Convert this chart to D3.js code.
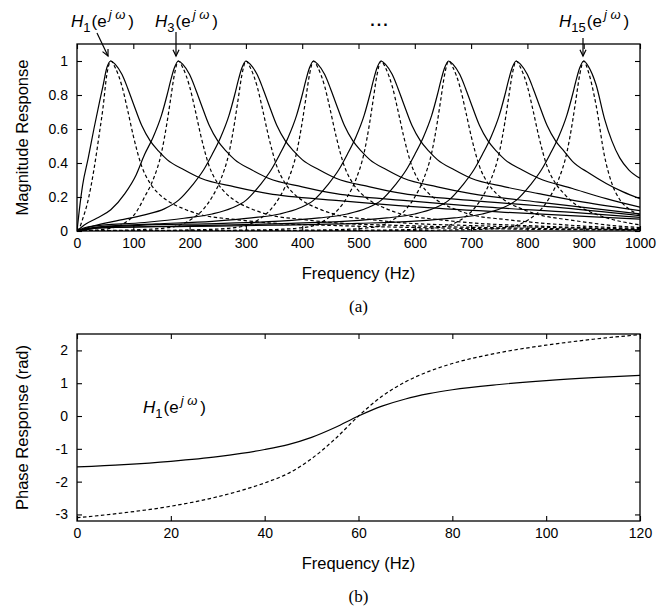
<!DOCTYPE html>
<html><head><meta charset="utf-8">
<script src="https://cdn.jsdelivr.net/npm/d3@7"></script>
<style>
body{margin:0;background:#fff;}
svg{display:block;font-family:"Liberation Sans",Arial,sans-serif;}
</style></head>
<body><svg id="c" width="671" height="612"></svg>
<script>
// ---------- data: (a) magnitude responses, [frequency Hz, magnitude] ----------
const magXTicks = [0,100,200,300,400,500,600,700,800,900,1000];
const magYTicks = [0,0.2,0.4,0.6,0.8,1];
const magYLabels = ["0","0.2","0.4","0.6","0.8","1"];

const solidH1 = [[0,0],[4,0.12],[10,0.27],[20,0.43],[30,0.6],[40,0.76],[46,0.85],[53,0.96],[60,1],[68,0.98],[80,0.92],[90,0.84],[100,0.75],[115,0.62],[130,0.53],[145,0.47],[160,0.42],[190,0.36],[220,0.31],[280,0.26],[340,0.22],[460,0.18],[610,0.14],[760,0.11],[910,0.085],[1000,0.07]];
const dashedH1 = [[0,0],[4,0.015],[10,0.07],[20,0.185],[30,0.36],[40,0.58],[46,0.72],[53,0.92],[60,1],[68,0.96],[80,0.85],[90,0.71],[100,0.56],[115,0.38],[130,0.28],[145,0.22],[160,0.18],[190,0.13],[220,0.096],[280,0.068],[340,0.048],[460,0.032],[610,0.02],[760,0.012],[910,0.007],[1000,0.005]];

const solidH3 = [[0,0],[15,0.04],[35,0.075],[60,0.125],[85,0.22],[105,0.33],[120,0.45],[135,0.55],[150,0.68],[160,0.8],[166,0.88],[173,0.96],[180,1],[188,0.98],[200,0.92],[210,0.84],[220,0.75],[235,0.62],[250,0.53],[265,0.47],[280,0.42],[310,0.36],[340,0.31],[400,0.26],[460,0.22],[580,0.18],[730,0.14],[880,0.11],[1000,0.08]];
const dashedH3 = [[0,0],[15,0.0016],[35,0.0056],[60,0.016],[85,0.048],[105,0.11],[120,0.2],[135,0.3],[150,0.46],[160,0.64],[166,0.77],[173,0.92],[180,1],[188,0.96],[200,0.85],[210,0.71],[220,0.56],[235,0.38],[250,0.28],[265,0.22],[280,0.18],[310,0.13],[340,0.096],[400,0.068],[460,0.048],[580,0.032],[730,0.02],[880,0.012],[1000,0.0064]];

const solidH5 = [[0,0],[30,0.03],[70,0.06],[120,0.095],[155,0.13],[180,0.18],[205,0.27],[225,0.36],[240,0.45],[255,0.55],[270,0.68],[280,0.8],[286,0.88],[293,0.96],[300,1],[308,0.98],[320,0.92],[330,0.84],[340,0.75],[355,0.62],[370,0.53],[385,0.47],[400,0.42],[430,0.36],[460,0.31],[520,0.26],[580,0.22],[700,0.18],[850,0.14],[1000,0.09]];
const dashedH5 = [[0,0],[30,0.001],[70,0.0036],[120,0.009],[155,0.017],[180,0.032],[205,0.073],[225,0.13],[240,0.2],[255,0.3],[270,0.46],[280,0.64],[286,0.77],[293,0.92],[300,1],[308,0.96],[320,0.85],[330,0.71],[340,0.56],[355,0.38],[370,0.28],[385,0.22],[400,0.18],[430,0.13],[460,0.096],[520,0.068],[580,0.048],[700,0.032],[850,0.02],[1000,0.008]];

const solidH7 = [[0,0],[20,0.025],[120,0.05],[190,0.075],[240,0.1],[275,0.135],[300,0.18],[325,0.27],[345,0.36],[360,0.45],[375,0.55],[390,0.68],[400,0.8],[406,0.88],[413,0.96],[420,1],[428,0.98],[440,0.92],[450,0.84],[460,0.75],[475,0.62],[490,0.53],[505,0.47],[520,0.42],[550,0.36],[580,0.31],[640,0.26],[700,0.22],[820,0.17],[1000,0.1]];
const dashedH7 = [[0,0],[20,0.0006],[120,0.0025],[190,0.0056],[240,0.01],[275,0.018],[300,0.032],[325,0.073],[345,0.13],[360,0.2],[375,0.3],[390,0.46],[400,0.64],[406,0.77],[413,0.92],[420,1],[428,0.96],[440,0.85],[450,0.71],[460,0.56],[475,0.38],[490,0.28],[505,0.22],[520,0.18],[550,0.13],[580,0.096],[640,0.068],[700,0.048],[820,0.029],[1000,0.01]];

const solidH9 = [[0,0],[40,0.025],[140,0.042],[240,0.057],[310,0.077],[360,0.1],[395,0.135],[420,0.18],[445,0.27],[465,0.36],[480,0.45],[495,0.55],[510,0.68],[520,0.8],[526,0.88],[533,0.96],[540,1],[548,0.98],[560,0.92],[570,0.84],[580,0.75],[595,0.62],[610,0.53],[625,0.47],[640,0.42],[670,0.36],[700,0.31],[760,0.26],[820,0.22],[900,0.17],[1000,0.12]];
const dashedH9 = [[0,0],[40,0.0006],[140,0.0018],[240,0.0032],[310,0.006],[360,0.01],[395,0.018],[420,0.032],[445,0.073],[465,0.13],[480,0.2],[495,0.3],[510,0.46],[520,0.64],[526,0.77],[533,0.92],[540,1],[548,0.96],[560,0.85],[570,0.71],[580,0.56],[595,0.38],[610,0.28],[625,0.22],[640,0.18],[670,0.13],[700,0.096],[760,0.068],[820,0.048],[900,0.029],[1000,0.014]];

const solidH11 = [[0,0],[30,0.02],[110,0.033],[260,0.045],[360,0.058],[430,0.077],[480,0.1],[515,0.135],[540,0.18],[565,0.27],[585,0.36],[600,0.45],[615,0.55],[630,0.68],[640,0.8],[646,0.88],[653,0.96],[660,1],[668,0.98],[680,0.92],[690,0.84],[700,0.75],[715,0.62],[730,0.53],[745,0.47],[760,0.42],[790,0.36],[820,0.31],[880,0.25],[940,0.19],[1000,0.14]];
const dashedH11 = [[0,0],[30,0.0004],[110,0.0011],[260,0.002],[360,0.0034],[430,0.006],[480,0.01],[515,0.018],[540,0.032],[565,0.073],[585,0.13],[600,0.2],[615,0.3],[630,0.46],[640,0.64],[646,0.77],[653,0.92],[660,1],[668,0.96],[680,0.85],[690,0.71],[700,0.56],[715,0.38],[730,0.28],[745,0.22],[760,0.18],[790,0.13],[820,0.096],[880,0.063],[940,0.036],[1000,0.02]];

const solidH13 = [[0,0],[30,0.016],[80,0.022],[230,0.033],[380,0.045],[480,0.058],[550,0.077],[600,0.1],[635,0.135],[660,0.18],[685,0.27],[705,0.36],[720,0.45],[735,0.55],[750,0.68],[760,0.8],[766,0.88],[773,0.96],[780,1],[788,0.98],[800,0.92],[810,0.84],[820,0.75],[835,0.62],[850,0.53],[865,0.47],[880,0.41],[910,0.34],[940,0.28],[970,0.23],[1000,0.19]];
const dashedH13 = [[0,0],[30,0.0003],[80,0.0005],[230,0.0011],[380,0.002],[480,0.0034],[550,0.006],[600,0.01],[635,0.018],[660,0.032],[685,0.073],[705,0.13],[720,0.2],[735,0.3],[750,0.46],[760,0.64],[766,0.77],[773,0.92],[780,1],[788,0.96],[800,0.85],[810,0.71],[820,0.56],[835,0.38],[850,0.28],[865,0.22],[880,0.17],[910,0.115],[940,0.078],[970,0.053],[1000,0.036]];

const solidH15 = [[0,0],[50,0.02],[200,0.027],[350,0.034],[500,0.045],[600,0.058],[670,0.077],[720,0.1],[755,0.135],[780,0.18],[805,0.27],[825,0.36],[840,0.45],[855,0.55],[870,0.68],[880,0.8],[886,0.88],[893,0.96],[900,1],[908,0.97],[922,0.86],[937,0.66],[950,0.53],[964,0.43],[980,0.36],[1000,0.31]];
const dashedH15 = [[0,0],[50,0.0004],[200,0.0007],[350,0.0012],[500,0.002],[600,0.0034],[670,0.006],[720,0.01],[755,0.018],[780,0.032],[805,0.073],[825,0.13],[840,0.2],[855,0.3],[870,0.46],[880,0.64],[886,0.77],[893,0.92],[900,1],[908,0.94],[922,0.74],[937,0.44],[950,0.28],[964,0.185],[980,0.13],[1000,0.096]];

// ---------- data: (b) phase response of H1, [frequency Hz, phase rad] ----------
const phaseXTicks = [0,20,40,60,80,100,120];
const phaseYTicks = [-3,-2,-1,0,1,2];
const phaseYLabels = ["-3","-2","-1","0","1","2"];
const phaseSolid = [[0,-1.55],[10,-1.48],[20,-1.38],[30,-1.24],[35,-1.14],[40,-1.02],[45,-0.87],[50,-0.65],[55,-0.35],[60,0],[65,0.3],[70,0.52],[75,0.68],[80,0.8],[90,0.96],[100,1.08],[110,1.17],[120,1.24]];
const phaseDashed = [[0,-3.1],[10,-2.95],[20,-2.75],[30,-2.46],[35,-2.27],[40,-2.04],[45,-1.75],[50,-1.3],[55,-0.7],[60,0],[65,0.6],[70,1.04],[75,1.36],[80,1.6],[90,1.93],[100,2.16],[110,2.34],[120,2.48]];

// ---------- drawing ----------
const svg = d3.select("#c");
svg.append("rect").attr("width",671).attr("height",612).attr("fill","#fff");
const SANS = '"Liberation Sans",Arial,sans-serif';

function panel(o){
  const x = d3.scaleLinear().domain(o.xDom).range([o.left,o.right]);
  const y = d3.scaleLinear().domain(o.yDom).range([o.bottom,o.top]);
  const g = svg.append("g");
  const cid = "clip"+o.id;
  svg.append("clipPath").attr("id",cid).append("rect")
    .attr("x",o.left).attr("y",o.top).attr("width",o.right-o.left).attr("height",o.bottom-o.top);
  const line = d3.line().x(d=>x(d[0])).y(d=>y(d[1])).curve(d3.curveMonotoneX);
  const lg = g.append("g").attr("clip-path",`url(#${cid})`);
  o.series.forEach(s=>{
    lg.append("path").attr("d",line(s.pts)).attr("fill","none").attr("stroke","#000")
      .attr("stroke-width",1.2).attr("stroke-dasharray",s.dashed?"3.5,2.5":null);
  });
  const tk = 5;
  const ax = (gen, tr, labels) => {
    const a = g.append("g").attr("transform",tr).call(gen);
    a.select(".domain").remove();
    a.selectAll(".tick line").attr("stroke","#000").attr("stroke-width",1.1);
    a.selectAll("text").attr("fill","#000").style("font-size","14px").style("font-family",SANS);
    if(!labels) a.selectAll("text").remove();
    return a;
  };
  ax(d3.axisBottom(x).tickValues(o.xTicks).tickSize(-tk).tickPadding(7).tickFormat(d=>String(d)), `translate(0,${o.bottom})`, true);
  ax(d3.axisTop(x).tickValues(o.xTicks).tickSize(-tk), `translate(0,${o.top})`, false);
  ax(d3.axisLeft(y).tickValues(o.yTicks).tickSize(-tk).tickPadding(9).tickFormat((d,i)=>o.yLabels[i]), `translate(${o.left},0)`, true);
  ax(d3.axisRight(y).tickValues(o.yTicks).tickSize(-tk), `translate(${o.right},0)`, false);
  g.append("rect").attr("x",o.left).attr("y",o.top).attr("width",o.right-o.left).attr("height",o.bottom-o.top)
    .attr("fill","none").attr("stroke","#000").attr("stroke-width",1.3);
  g.append("text").attr("x",(o.left+o.right)/2).attr("y",o.bottom+48).attr("text-anchor","middle")
    .style("font-size","16.5px").text(o.xTitle);
  g.append("text").attr("transform",`translate(28,${(o.top+o.bottom)/2}) rotate(-90)`).attr("text-anchor","middle")
    .style("font-size","16.5px").text(o.yTitle);
  g.append("text").attr("x",(o.left+o.right)/2).attr("y",o.bottom+81).attr("text-anchor","middle")
    .style("font-family",'"Liberation Serif","Times New Roman",serif').style("font-size","17px").text(o.caption);
  return {x,y};
}

const magSeries = [solidH1,dashedH1,solidH3,dashedH3,solidH5,dashedH5,solidH7,dashedH7,solidH9,dashedH9,solidH11,dashedH11,solidH13,dashedH13,solidH15,dashedH15]
  .map((pts,i)=>({pts, dashed: i%2===1}));

panel({id:"a",left:77,right:640,top:44,bottom:231,xDom:[0,1000],yDom:[0,1.1],
  xTicks:magXTicks,yTicks:magYTicks,yLabels:magYLabels,series:magSeries,
  xTitle:"Frequency (Hz)",yTitle:"Magnitude Response",caption:"(a)"});

panel({id:"b",left:77,right:640,top:334,bottom:521,xDom:[0,120],yDom:[-3.2,2.5],
  xTicks:phaseXTicks,yTicks:phaseYTicks,yLabels:phaseYLabels,
  series:[{pts:phaseSolid,dashed:false},{pts:phaseDashed,dashed:true}],
  xTitle:"Frequency (Hz)",yTitle:"Phase Response (rad)",caption:"(b)"});

// ---------- annotations ----------
function hLabel(x0, y0, sub){
  const t = svg.append("text").attr("x",x0).attr("y",y0).style("font-size","17px");
  t.append("tspan").style("font-style","italic").text("H");
  t.append("tspan").attr("dy",5).style("font-size","13px").text(sub);
  t.append("tspan").attr("dy",-5).attr("dx",1).text("(e");
  t.append("tspan").attr("dy",-8).attr("dx",2).style("font-size","13px").style("font-style","italic").text("j ω");
  t.append("tspan").attr("dy",8).attr("dx",3).text(")");
}
function arrow(x1,y1,x2,y2){
  svg.append("line").attr("x1",x1).attr("y1",y1).attr("x2",x2).attr("y2",y2).attr("stroke","#000").attr("stroke-width",1.2);
  const a = Math.atan2(y2-y1,x2-x1), L=7, w=0.45;
  const p = [[x2-L*Math.cos(a-w), y2-L*Math.sin(a-w)],[x2,y2],[x2-L*Math.cos(a+w), y2-L*Math.sin(a+w)]];
  svg.append("path").attr("d",d3.line()(p)).attr("fill","none").attr("stroke","#000").attr("stroke-width",1.2);
}
hLabel(71,27,"1");
hLabel(155,27,"3");
hLabel(559,27,"15");
svg.append("text").attr("x",380).attr("y",26).attr("text-anchor","middle").style("font-size","16px")
  .style("font-weight","bold").style("letter-spacing","2px").text("...");
arrow(97,33,108,56);
arrow(176,32,176,56);
arrow(583,38,583,56);
hLabel(143,413,"1");
</script></body></html>
